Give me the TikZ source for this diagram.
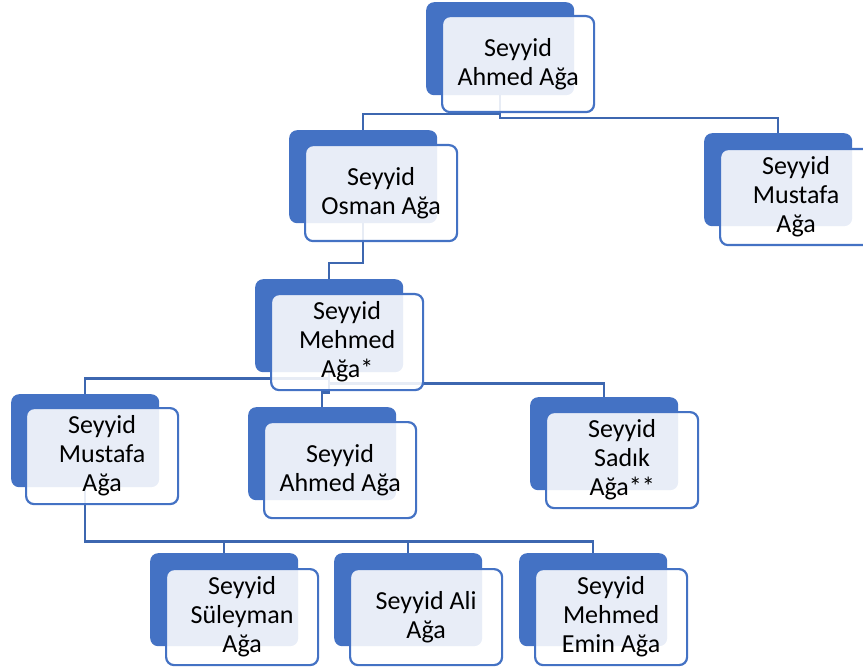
\documentclass[tikz,border=0pt]{standalone}
\usepackage{fontspec}
\setmainfont{Carlito}
\usetikzlibrary{calc}
\definecolor{color0}{HTML}{4472C4}

\tikzset{
  backbox/.style={fill=color0, rounded corners=8pt, minimum width=148pt,
    minimum height=93pt, inner sep=0pt, anchor=north west},
  frontbox/.style={draw=color0, line width=2.2pt, fill=white, fill opacity=0.88,
    text opacity=1, rounded corners=8pt, minimum width=152pt, minimum height=96pt,
    inner sep=0pt, align=center, anchor=north west,
    font=\fontsize{26}{29}\selectfont},
  link/.style={draw=color0!90!black, line width=2.2pt},
}

\begin{document}
\begin{tikzpicture}[x=1pt, y=-1pt]
  \useasboundingbox (0, 0) rectangle (863, 671);
  \clip (0, 0) rectangle (863, 671);

  \node[backbox] (ahmedB) at (426, 2) {};
  \node[backbox] (osmanB) at (289, 130) {};
  \node[backbox] (mustafaB) at (704, 133) {};
  \node[backbox] (mehmedB) at (255, 279) {};
  \node[backbox] (mustafa2B) at (11, 394) {};
  \node[backbox] (ahmed2B) at (248, 407) {};
  \node[backbox] (sadikB) at (530, 397) {};
  \node[backbox] (suleymanB) at (150, 553) {};
  \node[backbox] (aliB) at (334, 553) {};
  \node[backbox] (eminB) at (519, 553) {};

  \draw[link] (ahmedB.south) -- ++(0, 19) -| (osmanB.north);
  \draw[link] (ahmedB.south) -- ++(0, 23) -| (mustafaB.north);
  \draw[link] (osmanB.south) -- ++(0, 40) -| (mehmedB.north);
  \draw[link] (mehmedB.south) -- ++(0, 6) -| (mustafa2B.north);
  \draw[link] (mehmedB.south) -- ++(0, 11) -| (sadikB.north);
  \draw[link] (mehmedB.south) -- ++(0, 20) -| (ahmed2B.north);
  \draw[link] (mustafa2B.south) -- ++(0, 54) -| (suleymanB.north);
  \draw[link] (mustafa2B.south) -- ++(0, 54) -| (aliB.north);
  \draw[link] (mustafa2B.south) -- ++(0, 54) -| (eminB.north);

  \node[frontbox] (ahmedF) at ($(ahmedB.north west)+(15, 13)$) {Seyyid\\Ahmed Ağa};
  \node[frontbox] (osmanF) at ($(osmanB.north west)+(15, 14)$) {Seyyid\\Osman Ağa};
  \node[frontbox] (mustafaF) at ($(mustafaB.north west)+(15, 15)$) {Seyyid\\Mustafa\\Ağa};
  \node[frontbox] (mehmedF) at ($(mehmedB.north west)+(15, 14)$) {Seyyid\\Mehmed\\Ağa*};
  \node[frontbox] (mustafa2F) at ($(mustafa2B.north west)+(14, 13)$) {Seyyid\\Mustafa\\Ağa};
  \node[frontbox] (ahmed2F) at ($(ahmed2B.north west)+(15, 14)$) {Seyyid\\Ahmed Ağa};
  \node[frontbox] (sadikF) at ($(sadikB.north west)+(15, 14)$) {Seyyid\\Sadık\\Ağa**};
  \node[frontbox] (suleymanF) at ($(suleymanB.north west)+(15, 15)$) {Seyyid\\Süleyman\\Ağa};
  \node[frontbox] (aliF) at ($(aliB.north west)+(15, 15)$) {Seyyid Ali\\Ağa};
  \node[frontbox] (eminF) at ($(eminB.north west)+(15, 15)$) {Seyyid\\Mehmed\\Emin Ağa};
\end{tikzpicture}
\end{document}
